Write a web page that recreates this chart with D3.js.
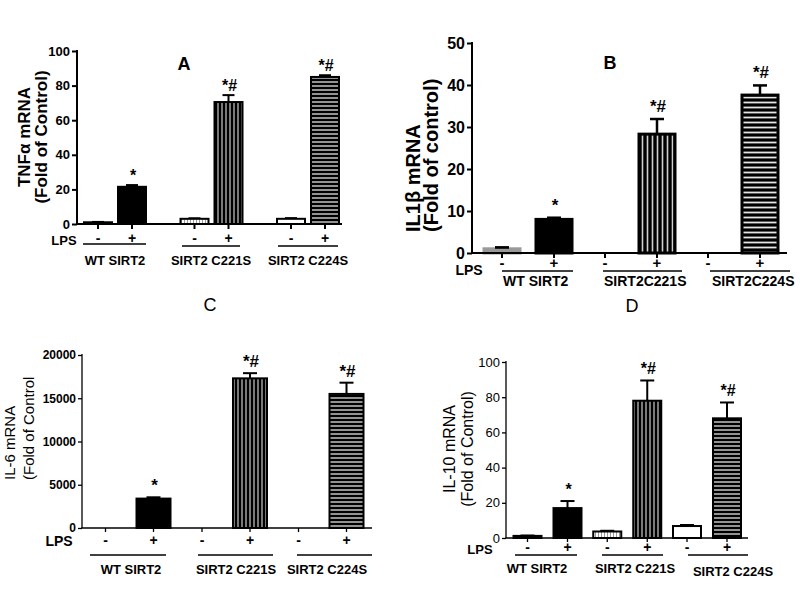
<!DOCTYPE html>
<html><head><meta charset="utf-8">
<script src="https://cdn.jsdelivr.net/npm/d3@7/dist/d3.min.js"></script>
<style>body{margin:0;background:#fff}svg{display:block}text{font-family:"Liberation Sans",Arial,sans-serif;fill:#000}</style>
</head><body>
<svg id="c" width="800" height="608"></svg>
<script>
// ---- data ----
const groupsACD = ["WT SIRT2", "SIRT2 C221S", "SIRT2 C224S"];
const groupsB = ["WT SIRT2", "SIRT2C221S", "SIRT2C224S"];
const lpsLevels = ["-", "+"];
const tnfMean = [1, 21.5, 3, 70.5, 3, 85];
const tnfErr = [0.2, 1, 0.3, 4, 0.4, 1];
const il1bMean = [1, 8, 0, 28.3, 0, 37.6];
const il1bErr = [0.3, 0.4, 0, 3.6, 0, 2.3];
const il6Mean = [0, 3400, 0, 17300, 0, 15500];
const il6Err = [0, 150, 0, 600, 0, 1300];
const il10Mean = [1.2, 17, 3.7, 78, 6.8, 68];
const il10Err = [0.2, 4, 0.4, 11.5, 0.6, 9];
const sigLabels = ["", "*", "", "*#", "", "*#"];
const ticksA = [0, 20, 40, 60, 80, 100];
const ticksB = [0, 10, 20, 30, 40, 50];
const ticksC = [0, 5000, 10000, 15000, 20000];
const ticksD = [0, 20, 40, 60, 80, 100];

const svg = d3.select("#c");
const defs = svg.append("defs");
function stripePat(id, dir, bg, fg, step, w) {
  const p = defs.append("pattern").attr("id", id).attr("patternUnits", "userSpaceOnUse")
    .attr("width", dir === "v" ? step : 8).attr("height", dir === "v" ? 8 : step);
  p.append("rect").attr("width", 20).attr("height", 20).attr("fill", bg);
  if (dir === "v") p.append("rect").attr("x", step / 2 - w / 2).attr("y", 0).attr("width", w).attr("height", 8).attr("fill", fg);
  else p.append("rect").attr("y", step / 2 - w / 2).attr("x", 0).attr("height", w).attr("width", 8).attr("fill", fg);
}
stripePat("vs", "v", "#000", "#c8c8c8", 4, 1.2);
stripePat("hs", "h", "#000", "#e0e0e0", 4, 1.3);
stripePat("vsB", "v", "#000", "#d0d0d0", 5, 1.6);
stripePat("hsB", "h", "#000", "#e6e6e6", 5, 1.8);
stripePat("lh", "v", "#fff", "#9a9a9a", 3, 1);

function panel(cfg) {
  const g = svg.append("g");
  const y = d3.scaleLinear().domain([0, cfg.max]).range([cfg.y0, cfg.y1]);
  const step = (cfg.centers[2] - cfg.centers[0]) / 2;
  const xg = d3.scaleBand().domain(cfg.groups).range([cfg.centers[0] - step / 2, cfg.centers[2] + step / 2]);
  const xi = d3.scaleBand().domain(lpsLevels).range([-cfg.d * 2, cfg.d * 2]).padding(0);
  const cx = i => xg(cfg.groups[Math.floor(i / 2)]) + xg.bandwidth() / 2 + xi(lpsLevels[i % 2]) + xi.bandwidth() / 2;
  // bars
  cfg.mean.forEach((m, i) => {
    const f = cfg.fills[i];
    if (!f || m <= 0) return;
    const x0 = cx(i) - cfg.bw / 2, top = y(m), h = y(0) - y(m);
    const e = cfg.err[i];
    if (e > 0) {
      g.append("line").attr("x1", cx(i)).attr("x2", cx(i)).attr("y1", top).attr("y2", y(m + e)).attr("stroke", "#000").attr("stroke-width", cfg.ew);
      g.append("line").attr("x1", cx(i) - cfg.cap).attr("x2", cx(i) + cfg.cap).attr("y1", y(m + e)).attr("y2", y(m + e)).attr("stroke", "#000").attr("stroke-width", cfg.ew);
    }
    g.append("rect").attr("x", x0).attr("y", top).attr("width", cfg.bw).attr("height", h)
      .attr("fill", f).attr("stroke", f === "#999" ? "#999" : "#000").attr("stroke-width", cfg.bs);
    if (f === "#999" && e > 0) {
      g.append("line").attr("x1", cx(i) - cfg.cap).attr("x2", cx(i) + cfg.cap).attr("y1", y(m + e)).attr("y2", y(m + e)).attr("stroke", "#000").attr("stroke-width", cfg.ew);
    }
    if (cfg.sig[i]) {
      g.append("text").attr("x", cx(i) + 1).attr("y", y(m + e) - cfg.sigOff).attr("dy", "0.35em")
        .attr("text-anchor", "middle").attr("font-size", cfg.sigSize).attr("font-weight", "bold").text(cfg.sig[i]);
    }
  });
  // axes
  const ya = g.append("g").attr("transform", `translate(${cfg.ax},0)`)
    .call(d3.axisLeft(y).tickValues(cfg.ticks).tickSize(cfg.tick).tickPadding(2).tickFormat(d3.format("d")));
  ya.select(".domain").attr("stroke-width", cfg.aw).attr("d", `M0,${cfg.y0}V${cfg.y1 - 1}`);
  ya.selectAll(".tick line").attr("stroke-width", cfg.aw);
  ya.selectAll(".tick text").attr("font-size", cfg.tickSize).attr("font-weight", cfg.tickWeight)
    .attr("font-family", '"Liberation Sans",Arial,sans-serif').attr("fill", "#000");
  g.append("line").attr("x1", cfg.ax - cfg.aw / 2).attr("x2", cfg.xEnd).attr("y1", cfg.y0).attr("y2", cfg.y0)
    .attr("stroke", "#000").attr("stroke-width", cfg.aw);
  d3.range(6).forEach(i => {
    g.append("line").attr("x1", cx(i)).attr("x2", cx(i)).attr("y1", cfg.y0).attr("y2", cfg.y0 + cfg.tick)
      .attr("stroke", "#000").attr("stroke-width", cfg.aw);
    g.append("text").attr("x", cx(i)).attr("y", cfg.pmY).attr("dy", "0.35em").attr("text-anchor", "middle")
      .attr("font-size", cfg.pmSize).attr("font-weight", "bold").text(lpsLevels[i % 2]);
  });
  g.append("text").attr("x", cfg.lps[0]).attr("y", cfg.lps[1]).attr("dy", "0.35em").attr("text-anchor", "middle")
    .attr("font-size", cfg.lpsSize).attr("font-weight", "bold").text("LPS");
  cfg.groups.forEach((gr, k) => {
    const L = cfg.lines[k];
    g.append("line").attr("x1", L[0]).attr("x2", L[1]).attr("y1", L[2]).attr("y2", L[2]).attr("stroke", "#000").attr("stroke-width", 1.5);
    const T = cfg.labels[k];
    g.append("text").attr("x", T[0]).attr("y", T[1]).attr("dy", "0.35em").attr("text-anchor", cfg.labelAnchor)
      .attr("font-size", cfg.labelSize).attr("font-weight", "bold").text(gr);
  });
  // title
  g.append("text").attr("x", cfg.title[0]).attr("y", cfg.title[1]).attr("dy", "0.35em").attr("text-anchor", "middle")
    .attr("font-size", 18).attr("font-weight", cfg.titleWeight).text(cfg.name);
  // y label
  cfg.ylab.forEach((t, k) => {
    g.append("text").attr("transform", `translate(${cfg.ylabX[k]},${cfg.ylabY}) rotate(-90)`).attr("dy", "0.35em")
      .attr("text-anchor", cfg.ylabAnchor).attr("font-size", cfg.ylabSize).attr("font-weight", cfg.ylabWeight).text(t);
  });
}

panel({ name: "A", groups: groupsACD, mean: tnfMean, err: tnfErr, sig: sigLabels, ticks: ticksA, max: 100,
  fills: ["#000", "#000", "url(#lh)", "url(#vs)", "#fff", "url(#hs)"],
  ax: 77, y0: 224, y1: 51, xEnd: 342, centers: [115, 212, 308], d: 17, bw: 28, bs: 2, ew: 2, cap: 6, aw: 2, tick: 5,
  tickSize: 13, tickWeight: "bold", sigSize: 16, sigOff: 10,
  pmY: 238, pmSize: 14, lps: [64, 240], lpsSize: 13,
  lines: [[83, 146, 244], [182, 240, 246], [278, 338, 246]], labels: [[115, 260], [211, 260], [308, 260]], labelAnchor: "middle", labelSize: 13,
  title: [184, 64], titleWeight: "bold",
  ylab: ["TNFα mRNA", "(Fold of Control)"], ylabX: [24, 41], ylabY: 137, ylabAnchor: "middle", ylabSize: 17, ylabWeight: "bold" });

panel({ name: "B", groups: groupsB, mean: il1bMean, err: il1bErr, sig: sigLabels, ticks: ticksB, max: 50,
  fills: ["#999", "#000", null, "url(#vsB)", null, "url(#hsB)"],
  ax: 472, y0: 253, y1: 43, xEnd: 787, centers: [528, 630, 734], d: 26, bw: 36, bs: 3, ew: 2.5, cap: 7, aw: 2, tick: 5,
  tickSize: 16, tickWeight: "bold", sigSize: 17, sigOff: 13,
  pmY: 263, pmSize: 15, lps: [469, 270], lpsSize: 14,
  lines: [[502, 573, 271], [603, 682, 271], [710, 790, 271]], labels: [[503, 281], [604, 281], [712, 281]], labelAnchor: "start", labelSize: 14,
  title: [610, 63], titleWeight: "bold",
  ylab: ["IL1β mRNA", "(Fold of control)"], ylabX: [413, 431], ylabY: 232, ylabAnchor: "start", ylabSize: 20, ylabWeight: "bold" });

panel({ name: "C", groups: groupsACD, mean: il6Mean, err: il6Err, sig: sigLabels, ticks: ticksC, max: 20000,
  fills: [null, "#000", null, "url(#vs)", null, "url(#hs)"],
  ax: 82, y0: 528, y1: 355, xEnd: 372, centers: [129.5, 226, 322.5], d: 24, bw: 34, bs: 2, ew: 2, cap: 7, aw: 1.3, tick: 4,
  tickSize: 12, tickWeight: "bold", sigSize: 17, sigOff: 12,
  pmY: 540, pmSize: 14, lps: [59, 541], lpsSize: 14,
  lines: [[90, 166, 555], [198, 273, 555], [297, 372, 555]], labels: [[131, 569], [236, 569], [327, 569]], labelAnchor: "middle", labelSize: 13,
  title: [210, 305], titleWeight: "normal",
  ylab: ["IL-6 mRNA", "(Fold of Control"], ylabX: [10, 29], ylabY: 480, ylabAnchor: "start", ylabSize: 15, ylabWeight: "normal" });

panel({ name: "D", groups: groupsACD, mean: il10Mean, err: il10Err, sig: sigLabels, ticks: ticksD, max: 100,
  fills: ["#000", "#000", "url(#lh)", "url(#vs)", "#fff", "url(#hs)"],
  ax: 506, y0: 538, y1: 362, xEnd: 748, centers: [547.5, 627.5, 707], d: 20, bw: 28, bs: 2, ew: 2, cap: 7, aw: 1.3, tick: 4,
  tickSize: 13, tickWeight: "normal", sigSize: 16, sigOff: 12,
  pmY: 547, pmSize: 14, lps: [480, 549], lpsSize: 13,
  lines: [[515, 577, 555], [602, 663, 555], [688, 748, 555]], labels: [[537, 568], [635, 568], [733, 571]], labelAnchor: "middle", labelSize: 13,
  title: [632, 306], titleWeight: "normal",
  ylab: ["IL-10 mRNA", "(Fold of Control)"], ylabX: [449, 467], ylabY: 449, ylabAnchor: "middle", ylabSize: 16, ylabWeight: "normal" });
</script>
</body></html>
